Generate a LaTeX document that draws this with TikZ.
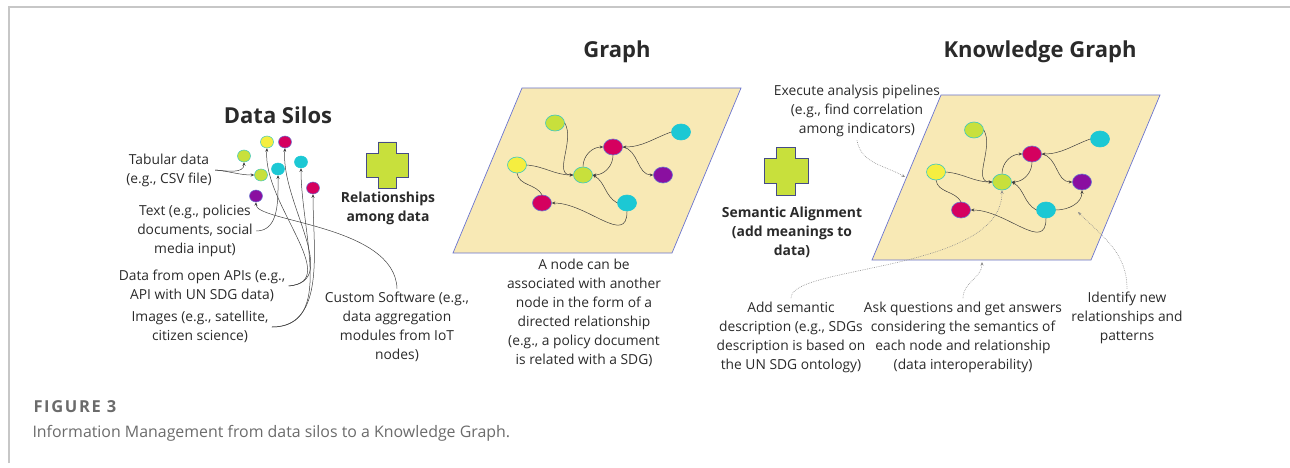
\documentclass[tikz,border=0pt]{standalone}
\usepackage{fontspec}
\setmainfont{Open Sans}
\usetikzlibrary{arrows.meta,shapes.geometric}
\definecolor{dlime}{HTML}{C8E03C}
\definecolor{dyellow}{HTML}{F5EE40}
\definecolor{dmagenta}{HTML}{D5005F}
\definecolor{dcyan}{HTML}{1CC8D4}
\definecolor{dpurple}{HTML}{8A0FA0}
\definecolor{dteal}{HTML}{3CC8C0}
\definecolor{dedge}{HTML}{6A74D0}
\definecolor{dsheet}{HTML}{F8E9B5}
\definecolor{dink}{HTML}{2A2A2A}

% one graph on its sheet, reused for the knowledge graph
\newcommand\sdggraph{%
  \draw[sheet] (453,-253) -- (522,-88) -- (741,-88) -- (672,-253) -- cycle;
  \node[gnode,fill=dlime,draw=dteal] (A) at (555,-123) {};
  \node[gnode,fill=dcyan,draw=dcyan] (B) at (681,-132) {};
  \node[gnode,fill=dmagenta,draw=dedge] (C) at (613,-147) {};
  \node[gnode,fill=dyellow,draw=dteal] (D) at (517,-165) {};
  \node[gnode,fill=dlime,draw=dteal] (E) at (583,-175) {};
  \node[gnode,fill=dpurple,draw=dedge] (F) at (663,-175) {};
  \node[gnode,fill=dcyan,draw=dcyan] (G) at (627,-203) {};
  \node[gnode,fill=dmagenta,draw=dedge] (H) at (542,-203) {};
  \draw[link] (A.east) to[out=-60,in=180] (E.west);
  \draw[link] (D.east) to[out=-5,in=180] (E.west);
  \draw[link] (E.north) to[out=90,in=180] (C.west);
  \draw[link] (C.south) to[out=-90,in=0] (E.east);
  \draw[link] (B.west) to[out=200,in=0] (C.east);
  \draw[link] (C.east) to[out=-10,in=180] (F.west);
  \draw[link] (G.west) to[out=150,in=-30] (E.east);
  \draw[link] (G.south) to[out=-90,in=0,looseness=1.2] (H.east);
  \draw[link,-] (H.north) to[out=120,in=-80] (D.south);
}

\begin{document}
\begin{tikzpicture}[x=1pt,y=1pt,
  every node/.style={font=\fontsize{13.8}{19}\selectfont,text=dink,align=center},
  title/.style={font=\fontsize{22}{26}\selectfont\bfseries},
  bold/.style={font=\fontsize{13.9}{19}\selectfont\bfseries},
  gnode/.style={ellipse,minimum width=19pt,minimum height=16pt,inner sep=0pt,line width=0.6pt},
  snode/.style={ellipse,minimum width=13pt,minimum height=12pt,inner sep=0pt,line width=0.5pt},
  sheet/.style={fill=dsheet,draw=dedge,line width=0.7pt},
  link/.style={-{Stealth[length=3.5pt,width=3pt]},black!75,line width=0.5pt},
  hint/.style={-{Stealth[length=3.5pt,width=3pt]},black!45,line width=0.6pt,dash pattern=on 0.7pt off 1.1pt},
  addsign/.pic={\draw[fill=dlime,draw=black!35!dedge,line width=0.6pt]
    (-9,23) -- (9,23) -- (9,12) -- (21,12) -- (21,-12) -- (9,-12) -- (9,-23) -- (-9,-23)
    -- (-9,-12) -- (-21,-12) -- (-21,12) -- (-9,12) -- cycle;}]
\useasboundingbox (0,0) rectangle (1290,-468);
\draw[black!22,line width=1.2pt] (9,-463) -- (9,-7) -- (1290,-7);

% data silos
\node[title] (silos) at (278,-115) {Data Silos};
\node[snode,fill=dlime,draw=dteal] (s1) at (244,-156) {};
\node[snode,fill=dyellow,draw=dteal] (s2) at (267,-142) {};
\node[snode,fill=dmagenta,draw=dedge] (s3) at (285,-142) {};
\node[snode,fill=dcyan,draw=dcyan] (s4) at (301,-162) {};
\node[snode,fill=dcyan,draw=dcyan] (s5) at (278,-169) {};
\node[snode,fill=dlime,draw=dteal] (s6) at (261,-175) {};
\node[snode,fill=dmagenta,draw=dedge] (s7) at (313,-188) {};
\node[snode,fill=dpurple,draw=dedge] (s8) at (256,-196) {};
\node (tab) at (169,-170) {Tabular data\\(e.g., CSV file)};
\node (txt) at (195,-231) {Text (e.g., policies\\documents, social\\media input)};
\node (api) at (202,-286) {Data from open APIs (e.g.,\\API with UN SDG data)};
\node (img) at (200,-327) {Images (e.g., satellite,\\citizen science)};
\node (soft) at (397,-327) {Custom Software (e.g.,\\data aggregation\\modules from IoT\\nodes)};
\draw[link] (tab.east) to[out=-5,in=-90] (s1.south);
\draw[link] (tab.east) to[out=-5,in=180] (s6.west);
\draw[link] (txt.east) to[out=0,in=-90] (s5.south);
\draw[link] (api.east) to[out=5,in=-95] (s2.south);
\draw[link] (api.east) to[out=5,in=-95] (s3.south);
\draw[link] (img.east) to[out=0,in=-90] (s4.south);
\draw[link] (img.east) to[out=0,in=-90] (s7.south);
\draw[link] (soft.north) .. controls (395,-225) and (255,-222) .. (s8.south);

\pic at (387,-165) {addsign};
\node[bold] (rel) at (388,-208) {Relationships\\among data};

% graph
\node[title] (gtitle) at (617,-52) {Graph};
\begin{scope}
  \sdggraph
\end{scope}
\node (gnote) at (584,-313) {A node can be\\associated with another\\node in the form of a\\directed relationship\\(e.g., a policy document\\is related with a SDG)};

\pic[scale=1.04] at (786,-171) {addsign};
\node[bold] (sem) at (792,-232) {Semantic Alignment\\(add meanings to\\data)};

% knowledge graph
\node[title] (ktitle) at (1040,-52) {Knowledge Graph};
\begin{scope}[shift={(419,-7)},name prefix=k-]
  \sdggraph
  \draw[link] (G.east) to[out=0,in=-90] (F.south);
\end{scope}
\coordinate (kgleft) at (905,-177);
\coordinate (kgbottom) at (982,-262);
\coordinate (kgnew) at (1078,-212);
\node (exec) at (857,-111) {Execute analysis pipelines\\(e.g., find correlation\\among indicators)};
\node (add) at (791,-337) {Add semantic\\description (e.g., SDGs\\description is based on\\the UN SDG ontology)};
\node (ask) at (963,-337) {Ask questions and get answers\\considering the semantics of\\each node and relationship\\(data interoperability)};
\node (ident) at (1127,-318) {Identify new\\relationships and\\patterns};
\draw[hint] (exec.south) to[out=-80,in=150] (kgleft);
\draw[hint] (add.north) .. controls (790,-265) and (1002,-272) .. (k-E.south);
\draw[hint] (ask.north) to[out=90,in=-90] (kgbottom);
\draw[hint] (ident.north) to[out=90,in=-45] (kgnew);

% caption
\node[anchor=west,text=black!58] (fig) at (30,-407) {\fontsize{16.5}{19}\selectfont\bfseries\addfontfeature{LetterSpace=10}FIGURE 3};
\node[anchor=west,text=black!58] (cap) at (29,-433) {\fontsize{15.9}{18}\selectfont Information Management from data silos to a Knowledge Graph.};
\end{tikzpicture}
\end{document}
